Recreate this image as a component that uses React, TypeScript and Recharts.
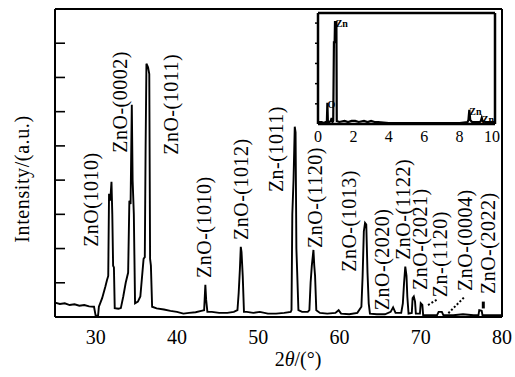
import {
  ComposedChart,
  Line,
  Scatter,
  XAxis,
  YAxis,
  ReferenceLine,
} from 'recharts'

// XRD pattern, 2θ (deg) vs intensity (a.u.)
const TWO_THETA = [
  25.0, 25.6, 26.2, 26.8, 27.4, 28.0, 28.6, 29.2, 29.8, 30.0,
  30.3, 30.4, 30.8, 31.2, 31.4, 31.55, 31.65, 31.8, 31.95, 32.05,
  32.15, 32.25, 32.35, 32.8, 33.1, 33.4, 33.7, 34.0, 34.15, 34.3,
  34.45, 34.55, 34.7, 34.85, 35.2, 35.5, 35.9, 36.05, 36.15, 36.25,
  36.45, 36.6, 36.7, 36.8, 36.95, 37.5, 38.4, 39.2, 40.0, 40.8,
  41.5, 42.3, 43.0, 43.35, 43.5, 43.6, 43.75, 44.3, 45.2, 46.2,
  47.0, 47.45, 47.6, 47.75, 47.86, 47.95, 48.1, 48.25, 48.6, 49.4,
  50.2, 51.2, 52.2, 53.2, 54.0, 54.1, 54.2, 54.35, 54.5, 54.6,
  54.7, 54.8, 54.95, 55.4, 56.1, 56.3, 56.45, 56.6, 56.8, 56.9,
  57.0, 57.15, 57.6, 58.5, 59.5, 59.9, 60.2, 61.2, 62.2, 62.7,
  62.85, 63.0, 63.15, 63.3, 63.45, 63.6, 63.75, 64.6, 65.6, 66.3,
  66.6, 66.9, 67.6, 67.8, 67.95, 68.1, 68.25, 68.35, 68.5, 68.9,
  69.0, 69.15, 69.3, 69.4, 69.9, 70.0, 70.2, 70.3, 71.0, 72.0,
  72.2, 72.6, 72.8, 74.0, 75.2, 76.5, 77.1, 77.2, 77.5, 77.6,
  80.0,
]
const INTENSITY = [
  0.42, 0.38, 0.40, 0.35, 0.37, 0.33, 0.35, 0.31, 0.30, 0.04,
  0.04, 0.30, 0.55, 0.89, 1.08, 1.2, 3.6, 3.4, 3.95, 3.0,
  1.5, 1.45, 0.26, 0.24, 0.26, 0.6, 1.0, 1.3, 3.4, 3.3,
  6.2, 4.0, 3.0, 0.4, 0.45, 0.6, 1.7, 1.75, 5.0, 7.4,
  7.3, 7.1, 1.7, 1.5, 0.3, 0.25, 0.22, 0.18, 0.15, 0.1,
  0.12, 0.14, 0.18, 0.2, 0.94, 0.5, 0.15, 0.15, 0.12, 0.12,
  0.15, 0.2, 0.7, 1.4, 2.05, 1.9, 1.2, 0.15, 0.15, 0.12,
  0.15, 0.1, 0.1, 0.12, 0.15, 0.2, 3.0, 4.0, 5.56, 5.4,
  2.0, 1.3, 0.2, 0.15, 0.15, 0.2, 1.0, 1.5, 1.96, 1.5,
  1.2, 0.2, 0.12, 0.1, 0.12, 0.2, 0.1, 0.08, 0.12, 0.3,
  1.2, 2.5, 2.75, 2.7, 1.3, 0.4, 0.1, 0.08, 0.08, 0.15,
  0.28, 0.12, 0.12, 0.4, 1.0, 1.47, 1.2, 0.6, 0.1, 0.12,
  0.55, 0.6, 0.45, 0.1, 0.1, 0.4, 0.35, 0.05, 0.05, 0.05,
  0.15, 0.15, 0.05, 0.05, 0.08, 0.05, 0.05, 0.2, 0.18, 0.05,
  0.05,
]
const X_TICKS = [30, 40, 50, 60, 70, 80]
const Y_TICKS = [0, 1, 2, 3, 4, 5, 6, 7, 8, 9]

// peak labels: text, 2θ of label centre, intensity at label start
const PEAK_TEXT = [
  'ZnO(1010)', 'ZnO-(0002)', 'ZnO-(1011)', 'ZnO-(1010)', 'ZnO-(1012)',
  'Zn-(1011)', 'ZnO-(1120)', 'ZnO-(1013)', 'ZnO-(2020)', 'ZnO-(1122)',
  'ZnO-(2021)', 'Zn-(1120)', 'ZnO-(0004)', 'ZnO-(2022)',
]
const PEAK_THETA = [29.4, 33.0, 39.3, 43.3, 47.9, 52.2, 57.0, 61.2, 65.2, 67.8, 69.9, 72.35, 75.4, 78.3]
const PEAK_AT = [2.05, 4.8, 4.74, 1.14, 2.25, 3.65, 2.02, 1.32, 0.2, 1.67, 0.79, 0.58, 0.76, 0.67]

// leader marks [θ1, I1, θ2, I2]
const LEADERS = [
  [70.9, 0.35, 71.95, 0.5],
  [73.4, 0.11, 75.4, 0.59],
]

// inset EDS spectrum, energy (keV) vs counts
const KEV = [
  0, 0.2, 0.35, 0.42, 0.5, 0.53, 0.56, 0.65, 0.72, 0.77,
  0.82, 0.86, 0.9, 0.94, 0.96, 1.04, 1.06, 1.2, 1.5, 1.7,
  1.9, 2.1, 2.3, 2.6, 2.8, 3.0, 3.2, 3.4, 4.0, 5.0,
  6.0, 7.0, 8.0, 8.45, 8.5, 8.55, 8.6, 8.7, 8.9, 9.15,
  9.2, 9.25, 9.3, 9.45, 10.0,
]
const COUNTS = [
  2, 2, 1, 2, 2, 21, 2, 2, 3, 6,
  2, 3, 81, 81, 101, 101, 3, 2, 3, 2,
  3, 3, 2, 3, 2, 3, 2, 2, 1, 1,
  1, 1, 1, 2, 4, 14, 4, 2, 2, 2,
  3, 6, 3, 2, 2,
]
const INSET_TICKS = [0, 2, 4, 6, 8, 10]
const INSET_Y_TICKS = [20, 40, 60, 80, 100]
const TAG_TEXT = ['O', 'Zn', 'Zn', 'Zn']
const TAG_KEV = [0.53, 1.0, 8.55, 9.25]
const TAG_COUNT = [21, 101, 14, 6]

const FONT = '"Liberation Serif", "Times New Roman", serif'

const xrd = TWO_THETA.map((t, i) => ({ t, v: INTENSITY[i] }))
const peakLabels = PEAK_TEXT.map((text, i) => ({ t: PEAK_THETA[i], v: PEAK_AT[i], text }))
const eds = KEV.map((e, i) => ({ e, c: COUNTS[i] }))
const tags = TAG_TEXT.map((text, i) => ({ e: TAG_KEV[i], c: TAG_COUNT[i], text }))

const axisLine = { stroke: '#000', strokeWidth: 2 }
const insetLine = { stroke: '#000', strokeWidth: 2.5 }

function PeakLabel(props: any) {
  const { cx, cy, payload } = props
  return (
    <text
      x={cx}
      y={cy}
      dy="0.35em"
      transform={`rotate(-90 ${cx} ${cy})`}
      fontFamily={FONT}
      fontSize={20}
      letterSpacing={0.5}
      fill="#000"
    >
      {payload.text}
    </text>
  )
}

function Tag(props: any) {
  const { cx, cy, payload } = props
  return (
    <text x={cx} y={cy + 5} fontFamily={FONT} fontSize={10} fontWeight="bold" fill="#000">
      {payload.text}
    </text>
  )
}

function Inset() {
  return (
    <ComposedChart
      width={200}
      height={150}
      data={eds}
      margin={{ top: 12, right: 4, bottom: 10, left: 17 }}
    >
      <XAxis
        type="number"
        dataKey="e"
        domain={[0, 10]}
        ticks={INSET_TICKS}
        tickLine={false}
        tickSize={0}
        tickMargin={7}
        height={16}
        axisLine={insetLine}
        tick={{ fill: '#000', fontSize: 16, fontFamily: FONT }}
      />
      <XAxis
        xAxisId="top"
        orientation="top"
        type="number"
        domain={[0, 10]}
        height={1}
        tick={false}
        tickLine={false}
        axisLine={insetLine}
      />
      <YAxis
        type="number"
        domain={[0, 110]}
        ticks={INSET_Y_TICKS}
        width={1}
        tickSize={3}
        tickFormatter={() => ''}
        tickLine={{ stroke: '#000', strokeWidth: 1.5 }}
        axisLine={insetLine}
      />
      <YAxis
        yAxisId="r"
        orientation="right"
        domain={[0, 110]}
        width={1}
        tick={false}
        tickLine={false}
        axisLine={insetLine}
      />
      <Line
        type="linear"
        dataKey="c"
        stroke="#000"
        strokeWidth={2.2}
        dot={false}
        isAnimationActive={false}
      />
      <Scatter data={tags} dataKey="c" shape={<Tag />} isAnimationActive={false} />
    </ComposedChart>
  )
}

export default function App() {
  return (
    <div style={{ position: 'absolute', left: 0, top: 0, width: 515, height: 377, background: '#fff' }}>
      <ComposedChart
        width={515}
        height={377}
        data={xrd}
        margin={{ top: 8, right: 12, bottom: 30, left: 55 }}
      >
        <XAxis
          type="number"
          dataKey="t"
          domain={[25, 80]}
          ticks={X_TICKS}
          tickLine={false}
          tickSize={0}
          tickMargin={13}
          height={30}
          axisLine={axisLine}
          tick={{ fill: '#000', fontSize: 20, fontFamily: FONT }}
        />
        <XAxis
          xAxisId="top"
          orientation="top"
          type="number"
          domain={[25, 80]}
          height={1}
          tick={false}
          tickLine={false}
          axisLine={axisLine}
        />
        <YAxis
          type="number"
          domain={[0, 9]}
          ticks={Y_TICKS}
          width={1}
          mirror
          tickSize={10}
          tickFormatter={() => ''}
          tickLine={{ stroke: '#000', strokeWidth: 1.6 }}
          axisLine={axisLine}
        />
        <YAxis
          yAxisId="r"
          orientation="right"
          domain={[0, 9]}
          width={1}
          tick={false}
          tickLine={false}
          axisLine={axisLine}
        />
        <Line
          type="linear"
          dataKey="v"
          stroke="#000"
          strokeWidth={1.9}
          dot={false}
          isAnimationActive={false}
        />
        <Scatter data={peakLabels} dataKey="v" shape={<PeakLabel />} isAnimationActive={false} />
        {LEADERS.map((s, i) => (
          <ReferenceLine
            key={i}
            segment={[{ x: s[0], y: s[1] }, { x: s[2], y: s[3] }]}
            stroke="#000"
            strokeWidth={2}
            strokeDasharray="2 2"
          />
        ))}
        <ReferenceLine
          segment={[{ x: 77.7, y: 0.45 }, { x: 77.7, y: 0.25 }]}
          stroke="#000"
          strokeWidth={3}
        />
        <text
          x={22}
          y={179}
          dy="0.35em"
          textAnchor="middle"
          transform="rotate(-90 22 179)"
          fontFamily={FONT}
          fontSize={20}
          letterSpacing={0.6}
          fill="#000"
        >
          Intensity/(a.u.)
        </text>
        <text x={298} y={366} textAnchor="middle" fontFamily={FONT} fontSize={20} fill="#000">
          2<tspan fontStyle="italic">θ</tspan>/(°)
        </text>
      </ComposedChart>
      <div style={{ position: 'absolute', left: 300, top: 0 }}>
        <Inset />
      </div>
    </div>
  )
}
